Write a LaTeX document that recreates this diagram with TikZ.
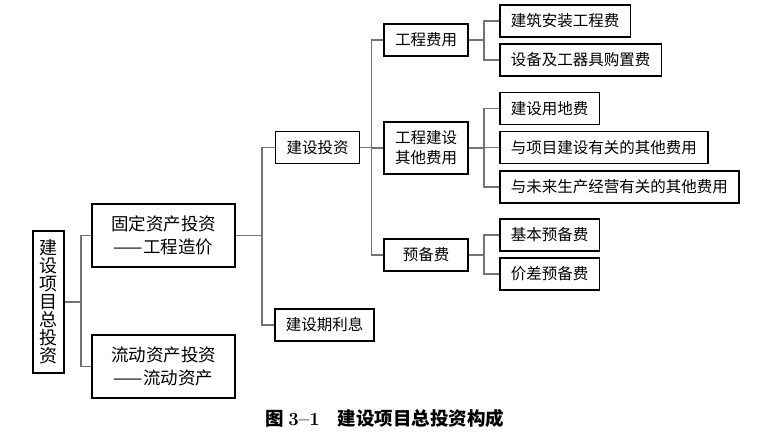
\documentclass[tikz,border=0pt]{standalone}
\usepackage{fontspec}
\newfontfamily\cjk{Noto Sans CJK SC}
\tikzset{
  box/.style={draw,line width=1.8pt,align=center,inner xsep=11pt,inner ysep=0pt,
    minimum height=32pt,font=\cjk\fontsize{15.5}{20}\selectfont},
  bigbox/.style={box,minimum width=143pt,minimum height=63pt,
    font=\cjk\fontsize{17.5}{23}\selectfont},
  leaf/.style={box,anchor=west},
  conn/.style={draw=black!55,line width=1.2pt},
}
\begin{document}
\begin{tikzpicture}[x=1pt,y=-1pt]
          \useasboundingbox (0,0) rectangle (760,443);
          % left part
          \node[box,inner xsep=0pt,minimum width=31pt,minimum height=142pt,
            font=\cjk\fontsize{18}{18}\selectfont] (root) at (48.5,302)
            {建\\设\\项\\目\\总\\投\\资};
          \node[bigbox] (gdzc) at (163.5,235.5) {固定资产投资\\——工程造价};
          \node[bigbox] (ldzc) at (163.5,366.5) {流动资产投资\\——流动资产};
          \node[box,minimum width=83pt] (jstz) at (317.5,147.5) {建设投资};
          \node[box,minimum width=99pt] (jsqlx) at (324.5,325) {建设期利息};
          % middle column
          \node[box,minimum width=84pt] (gcfy) at (426,40) {工程费用};
          \node[box,minimum width=84pt,minimum height=52pt] (qtfy) at (426,148) {工程建设\\其他费用};
          \node[box,minimum width=84pt] (ybf) at (426,255) {预备费};
          % leaves
          \node[leaf] (jazf) at (499,21) {建筑安装工程费};
          \node[leaf] (sbgz) at (499,60) {设备及工器具购置费};
          \node[leaf] (ydf) at (499,108.5) {建设用地费};
          \node[leaf] (xmjs) at (499,147.5) {与项目建设有关的其他费用};
          \node[leaf] (wlsc) at (499,187) {与未来生产经营有关的其他费用};
          \node[leaf] (jbyb) at (499,235) {基本预备费};
          \node[leaf] (jcyb) at (499,274) {价差预备费};
          % connectors
          \draw[conn] (root.east) -- ++(16,0) coordinate (b0);
          \draw[conn] (b0) |- (gdzc.west);
          \draw[conn] (b0) |- (ldzc.west);
          \draw[conn] (gdzc.east) -- ++(26,0) coordinate (b1);
          \draw[conn] (b1) |- (jstz.west);
          \draw[conn] (b1) |- (jsqlx.west);
          \draw[conn] (jstz.east) -- ++(11,0) coordinate (b2);
          \draw[conn] (b2) |- (gcfy.west);
          \draw[conn] (b2) |- (qtfy.west);
          \draw[conn] (b2) |- (ybf.west);
          \draw[conn] (gcfy.east) -- ++(15,0) coordinate (b3);
          \draw[conn] (b3) |- (jazf.west);
          \draw[conn] (b3) |- (sbgz.west);
          \draw[conn] (qtfy.east) -- ++(15,0) coordinate (b4);
          \draw[conn] (b4) |- (ydf.west);
          \draw[conn] (b4) |- (xmjs.west);
          \draw[conn] (b4) |- (wlsc.west);
          \draw[conn] (ybf.east) -- ++(15,0) coordinate (b5);
          \draw[conn] (b5) |- (jbyb.west);
          \draw[conn] (b5) |- (jcyb.west);
          % caption
          \node[font=\cjk\bfseries\fontsize{18.5}{22}\selectfont] (cap) at (385,418)
            {图 {\rmfamily\bfseries 3--1}\hspace{18pt}建设项目总投资构成};
        \end{tikzpicture}
\end{document}
